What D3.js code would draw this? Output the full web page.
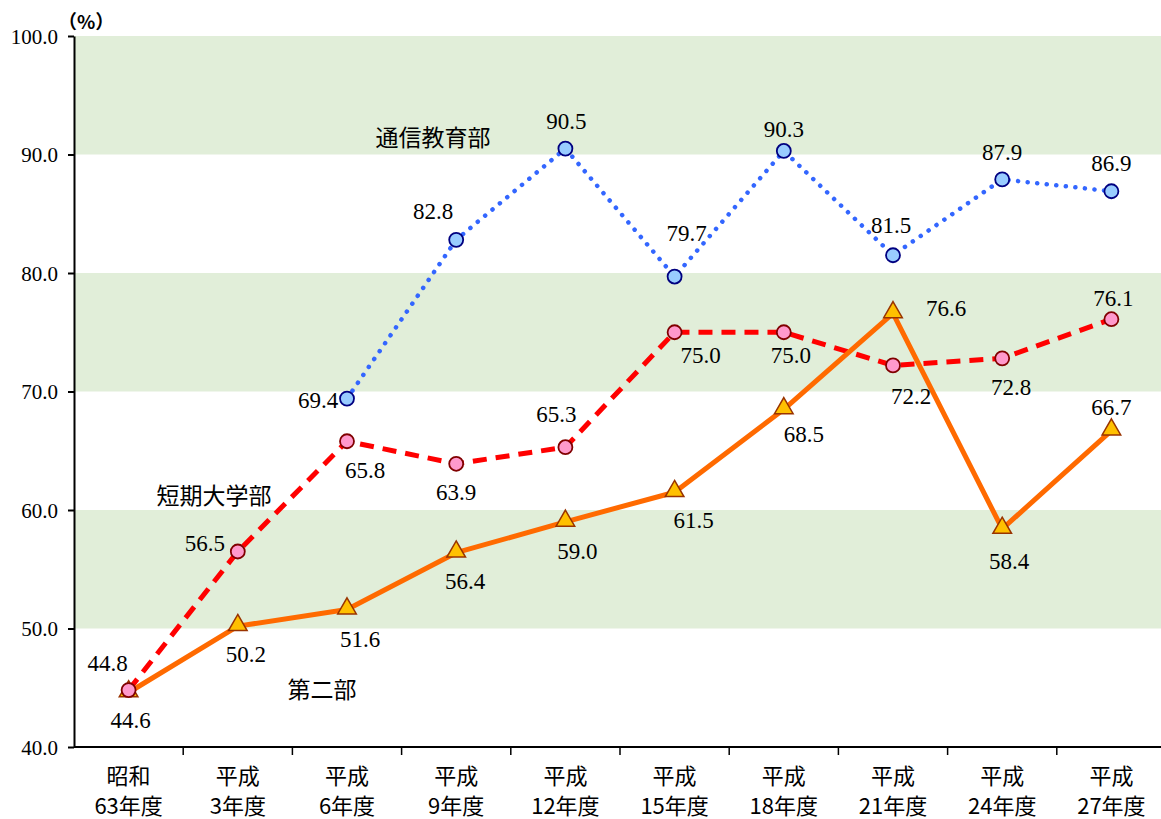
<!DOCTYPE html>
<html>
<head>
<meta charset="utf-8">
<script src="https://cdn.jsdelivr.net/npm/d3@7"></script>
<style>
  body { margin: 0; background: #fff; }
  svg { display: block; }
</style>
</head>
<body>
<div id="chart"></div>
<script>
// categories (two-line labels)
var categories = ["昭和\n63年度", "平成\n3年度", "平成\n6年度", "平成\n9年度", "平成\n12年度",
                  "平成\n15年度", "平成\n18年度", "平成\n21年度", "平成\n24年度", "平成\n27年度"];

// series values (%)
var tsushin = [null, null, 69.4, 82.8, 90.5, 79.7, 90.3, 81.5, 87.9, 86.9];
var tanki   = [44.8, 56.5, 65.8, 63.9, 65.3, 75.0, 75.0, 72.2, 72.8, 76.1];
var daini   = [44.6, 50.2, 51.6, 56.4, 59.0, 61.5, 68.5, 76.6, 58.4, 66.7];

var yTicks = [40, 50, 60, 70, 80, 90, 100];
var bands = [[90, 100], [70, 80], [50, 60]];

// where each value label sits relative to its point [dx, dy]
var tsushinLabelPos = [null, null, [-29, 1], [-23, -29], [1, -28], [12, -44], [0, -22], [-2, -30], [0, -27], [0, -28]];
var tankiLabelPos   = [[-21, -27], [-33, -9], [18, 29], [0, 28], [-9, -33], [26, 23], [7, 23], [18, 31], [9, 29], [2, -21]];
var dainiLabelPos   = [[2, 27], [8, 28], [13, 29], [9, 28], [12, 29], [19, 28], [20, 25], [53, -5], [7, 32], [0, -24]];

var SERIF = "'Liberation Serif', 'Times New Roman', serif";
var CJK = "'Noto Sans CJK JP', 'Noto Sans', sans-serif";

var width = 1161, height = 819;
var margin = {left: 74, top: 36, bottom: 72};
var plotRight = 1166;

var svg = d3.select("#chart").append("svg")
  .attr("width", width)
  .attr("height", height);

var x = d3.scaleBand().domain(categories).range([margin.left, plotRight]);
var y = d3.scaleLinear().domain([40, 100]).range([height - margin.bottom, margin.top]);
var cx = function(i) { return x(categories[i]) + x.bandwidth() / 2; };

// background bands
svg.selectAll("rect.band")
  .data(bands)
  .enter().append("rect")
  .attr("x", margin.left)
  .attr("width", plotRight - margin.left)
  .attr("y", function(d) { return y(d[1]); })
  .attr("height", function(d) { return y(d[0]) - y(d[1]); })
  .attr("fill", "#e1eed9");

// y axis
var yAxis = svg.append("g")
  .attr("transform", "translate(" + margin.left + ",0)")
  .call(d3.axisLeft(y).tickValues(yTicks).tickSize(6).tickSizeOuter(0).tickPadding(10).tickFormat(d3.format(".1f")));
yAxis.select(".domain").attr("stroke", "#000").attr("stroke-width", 2);
yAxis.selectAll(".tick line").attr("stroke", "#000").attr("stroke-width", 2);
yAxis.selectAll(".tick text")
  .style("font-family", SERIF)
  .style("font-size", "21px")
  .attr("fill", "#000")
  .attr("dy", "0.35em");

svg.append("text")
  .attr("x", 58).attr("y", 29)
  .style("font-family", CJK)
  .style("font-size", "19px")
  .style("font-weight", "bold")
  .text("（%）");

// x axis
var x0 = y(40);
svg.append("line")
  .attr("x1", margin.left).attr("x2", plotRight)
  .attr("y1", x0).attr("y2", x0)
  .attr("stroke", "#000").attr("stroke-width", 2);
svg.selectAll("line.xtick")
  .data(categories.slice(1))
  .enter().append("line")
  .attr("x1", function(d) { return x(d); })
  .attr("x2", function(d) { return x(d); })
  .attr("y1", x0).attr("y2", x0 + 8)
  .attr("stroke", "#000").attr("stroke-width", 1.5);

var xl = svg.selectAll("text.xlab")
  .data(categories)
  .enter().append("text")
  .attr("text-anchor", "middle")
  .style("font-family", CJK)
  .style("font-size", "22px")
  .attr("fill", "#000");
xl.each(function(d, i) {
  var t = d3.select(this);
  d.split("\n").forEach(function(line, k) {
    t.append("tspan")
      .attr("x", cx(i))
      .attr("y", 784 + k * 30)
      .text(line);
  });
});

// lines
function lineFor(vals) {
  return d3.line()
    .defined(function(d) { return d != null; })
    .x(function(d, i) { return cx(i); })
    .y(function(d) { return y(d); })(vals);
}

svg.append("path")
  .attr("d", lineFor(tsushin))
  .attr("fill", "none")
  .attr("stroke", "#3366ff")
  .attr("stroke-width", 4.5)
  .attr("stroke-linecap", "round")
  .attr("stroke-dasharray", "0.1,9.5");

svg.append("path")
  .attr("d", lineFor(tanki))
  .attr("fill", "none")
  .attr("stroke", "#ff0000")
  .attr("stroke-width", 5)
  .attr("stroke-dasharray", "14,9");

svg.append("path")
  .attr("d", lineFor(daini))
  .attr("fill", "none")
  .attr("stroke", "#ff6a00")
  .attr("stroke-width", 5)
  .attr("stroke-linejoin", "round");

// markers
var tri = d3.symbol().type(d3.symbolTriangle).size(150);
svg.selectAll("path.tri")
  .data(daini)
  .enter().append("path")
  .attr("d", tri)
  .attr("transform", function(d, i) { return "translate(" + cx(i) + "," + (y(d) - 1) + ")"; })
  .attr("fill", "#ffc000")
  .attr("stroke", "#993300")
  .attr("stroke-width", 1.5);

svg.selectAll("circle.tsu")
  .data(tsushin.map(function(v, i) { return {v: v, i: i}; }).filter(function(d) { return d.v != null; }))
  .enter().append("circle")
  .attr("cx", function(d) { return cx(d.i); })
  .attr("cy", function(d) { return y(d.v); })
  .attr("r", 7)
  .attr("fill", "#99ccff")
  .attr("stroke", "#000080")
  .attr("stroke-width", 1.8);

svg.selectAll("circle.tan")
  .data(tanki)
  .enter().append("circle")
  .attr("cx", function(d, i) { return cx(i); })
  .attr("cy", function(d) { return y(d); })
  .attr("r", 7)
  .attr("fill", "#ff99cc")
  .attr("stroke", "#800000")
  .attr("stroke-width", 1.8);

// value labels
function labels(vals, pos) {
  vals.forEach(function(v, i) {
    if (v == null) return;
    svg.append("text")
      .attr("x", cx(i) + pos[i][0])
      .attr("y", y(v) + pos[i][1])
      .attr("dy", "0.35em")
      .attr("text-anchor", "middle")
      .style("font-family", SERIF)
      .style("font-size", "23px")
      .attr("fill", "#000")
      .text(d3.format(".1f")(v));
  });
}
labels(tsushin, tsushinLabelPos);
labels(tanki, tankiLabelPos);
labels(daini, dainiLabelPos);

// series names
var seriesNames = [["通信教育部", 433, 138], ["短期大学部", 214, 496], ["第二部", 322, 690]];
svg.selectAll("text.sname")
  .data(seriesNames)
  .enter().append("text")
  .attr("x", function(d) { return d[1]; })
  .attr("y", function(d) { return d[2]; })
  .attr("dy", "0.35em")
  .attr("text-anchor", "middle")
  .style("font-family", CJK)
  .style("font-size", "23px")
  .attr("fill", "#000")
  .text(function(d) { return d[0]; });
</script>
</body>
</html>
